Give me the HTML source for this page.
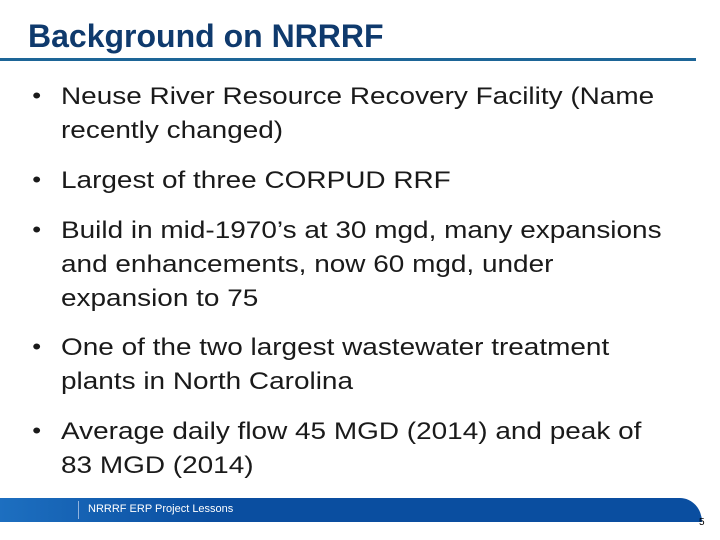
<!DOCTYPE html>
<html><head><meta charset="utf-8"><style>
body{margin:0;width:720px;height:540px;background:#fff;position:relative;overflow:hidden;font-family:"Liberation Sans",Arial,sans-serif}
#title{position:absolute;left:28px;top:14px;font-size:32px;font-weight:bold;color:#0f3a6d;margin:0;line-height:44px}
#rule{position:absolute;left:0;top:58px;width:696px;height:3px;background:#1d6597}
.b{position:absolute;left:61px;font-size:24.3px;line-height:34px;color:#1a1a1a;white-space:nowrap;transform:scaleX(1.15);transform-origin:0 0}
.b:before{content:"•";position:absolute;left:-25px;top:-1px;font-size:22px}
#footer{position:absolute;left:0;top:498px;width:702px;height:24px;background:linear-gradient(90deg,#1d6fc0 0,#0a4ea0 30%,#0a4ea0 100%);border-top-right-radius:22px 24px}
#div{position:absolute;left:78px;top:3px;width:1px;height:18px;background:#8fb3de}
#ft{position:absolute;left:88px;top:5px;font-size:11px;color:#fff}
#pn{position:absolute;left:699px;top:517px;font-size:10px;color:#000}
</style></head><body>
<h1 id="title">Background on NRRRF</h1>
<div id="rule"></div>
<div class="b" style="top:80px">Neuse River Resource Recovery Facility (Name<br>recently changed)</div>
<div class="b" style="top:164px">Largest of three CORPUD RRF</div>
<div class="b" style="top:214px">Build in mid-1970’s at 30 mgd, many expansions<br>and enhancements, now 60 mgd, under<br>expansion to 75</div>
<div class="b" style="top:331px">One of the two largest wastewater treatment<br>plants in North Carolina</div>
<div class="b" style="top:415px">Average daily flow 45 MGD (2014) and peak of<br>83 MGD (2014)</div>
<div id="footer"><div id="div"></div><div id="ft">NRRRF ERP Project Lessons</div></div>
<div id="pn">5</div>
</body></html>
